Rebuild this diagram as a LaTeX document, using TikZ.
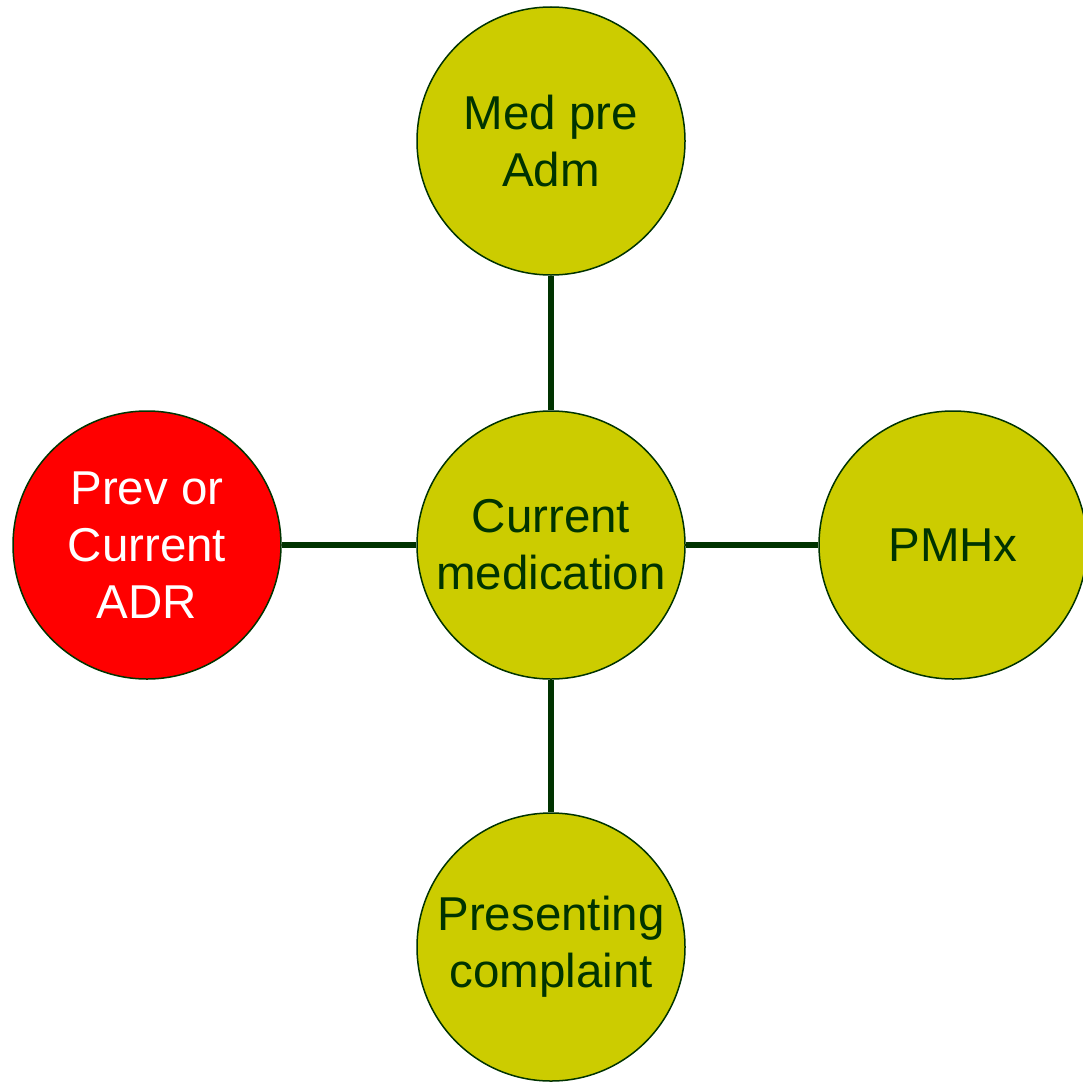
\documentclass[tikz,border=0pt]{standalone}
\usepackage{fontspec}
\setmainfont{Liberation Sans}
\definecolor{olivefill}{HTML}{CCCC00}
\definecolor{darkgr}{HTML}{003300}
\definecolor{redfill}{HTML}{FF0000}
\begin{document}
\begin{tikzpicture}[x=1pt,y=-1pt,
  bubble/.style={circle, draw=darkgr, line width=1.5pt, fill=olivefill, minimum size=268pt, inner sep=0pt, align=center, text=darkgr, font=\fontsize{47.5}{57}\selectfont},
  redbubble/.style={bubble, fill=redfill, text=white},
  link/.style={draw=darkgr, line width=5.5pt}]
\useasboundingbox (0,0) rectangle (1083,1081);
\node[bubble] (c) at (551,545) {Current\\medication};
\node[bubble] (t) at (551,141) {Med pre\\Adm};
\node[bubble] (r) at (953,545) {PMHx};
\node[bubble] (b) at (551,947) {Presenting\\complaint};
\node[redbubble] (l) at (147,545) {Prev or\\Current\\ADR};
\draw[link] (t) -- (c);
\draw[link] (c) -- (b);
\draw[link] (l) -- (c);
\draw[link] (c) -- (r);
\end{tikzpicture}
\end{document}
